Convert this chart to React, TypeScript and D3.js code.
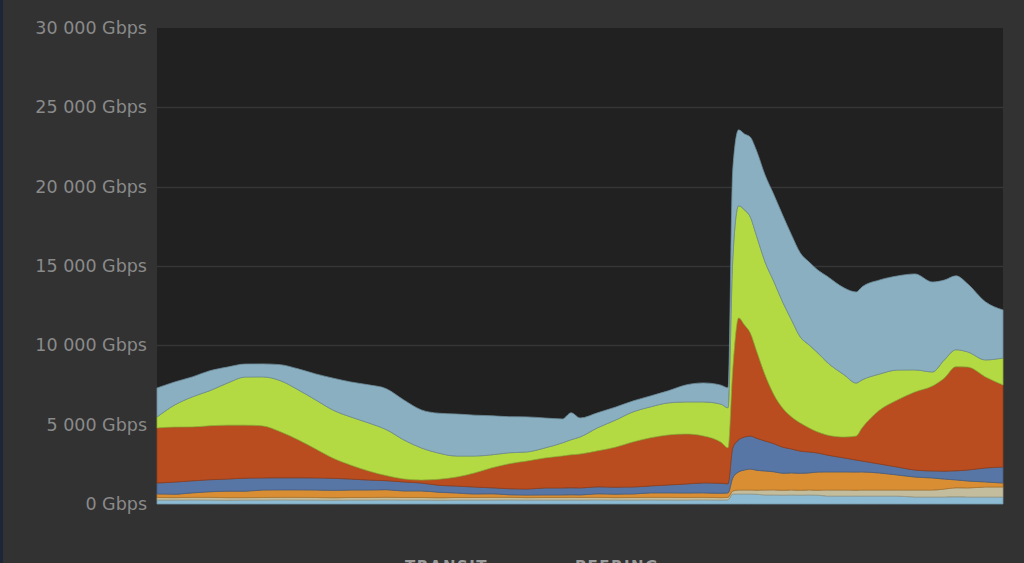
import * as React from 'react'
import * as d3 from 'd3'

// minutes since start of the window
const minutes = [0, 30, 60, 90, 120, 150, 180, 210, 240, 270, 300, 330, 360, 390, 420, 450, 480, 510, 540, 570,
    600, 630, 660, 690, 705, 720, 750, 780, 810, 840, 870, 900, 930, 960, 972, 980, 990, 1000, 1010, 1020,
    1035, 1050, 1065, 1080, 1095, 1110, 1125, 1140, 1170, 1190, 1200, 1230, 1260, 1290, 1320, 1340, 1360, 1380, 1410, 1440]

// Gbps per series, bottom of the stack first
const seriesA = [250, 250, 260, 250, 240, 250, 250, 260, 250, 250, 240, 250, 250, 260, 250, 250, 240, 250, 250, 250,
    260, 250, 250, 250, 250, 250, 260, 250, 250, 260, 250, 250, 260, 250, 260, 630, 630, 630, 630, 620,
    570, 570, 560, 570, 560, 570, 560, 500, 500, 500, 500, 500, 500, 440, 440, 440, 450, 440, 440, 440]
const seriesB = [160, 150, 160, 170, 160, 150, 160, 160, 170, 160, 150, 160, 160, 170, 160, 160, 150, 160, 160, 170,
    160, 150, 160, 160, 170, 160, 160, 150, 160, 160, 170, 160, 160, 150, 160, 190, 250, 250, 250, 250,
    310, 320, 310, 320, 310, 320, 310, 380, 380, 370, 380, 380, 380, 440, 440, 500, 570, 570, 630, 630]
const seriesC = [220, 220, 280, 350, 410, 410, 470, 470, 470, 470, 470, 470, 470, 470, 410, 410, 350, 280, 220, 220,
    160, 160, 160, 160, 160, 160, 220, 220, 220, 280, 280, 280, 280, 280, 280, 820, 1140, 1260, 1320, 1260,
    1200, 1140, 1070, 1070, 1070, 1070, 1140, 1140, 1140, 1140, 1140, 1070, 950, 820, 760, 630, 500, 440, 320, 250]
const seriesD = [690, 760, 760, 760, 760, 820, 760, 760, 760, 760, 760, 690, 630, 570, 570, 500, 440, 440, 440, 380,
    380, 380, 440, 440, 440, 440, 440, 440, 440, 440, 500, 570, 630, 630, 570, 1890, 2020, 2080, 2080, 2020,
    1890, 1770, 1640, 1510, 1390, 1320, 1200, 1070, 880, 760, 690, 570, 500, 440, 440, 500, 570, 690, 880, 1010]
const seriesE = [3470, 3470, 3400, 3400, 3400, 3340, 3280, 2900, 2400, 1830, 1260, 880, 570, 320, 190, 190, 380, 570, 880, 1260,
    1580, 1770, 1890, 2020, 2080, 2140, 2270, 2520, 2840, 3030, 3150, 3150, 2960, 2580, 2270, 4920, 7690, 7060, 6490, 5550,
    4160, 3090, 2460, 2020, 1770, 1510, 1320, 1260, 1320, 1510, 2080, 3400, 4220, 4920, 5360, 5860, 6560, 6490, 5740, 5170]
const seriesF = [690, 1390, 1890, 2210, 2650, 3030, 3090, 3220, 3150, 3090, 3030, 3030, 3030, 2900, 2460, 2020, 1640, 1320, 1070, 820,
    690, 570, 630, 820, 950, 1070, 1450, 1700, 1890, 1950, 2020, 2020, 2140, 2400, 2520, 6930, 7060, 7250, 7310, 7250,
    7120, 7120, 6680, 6110, 5420, 5230, 4980, 4600, 3910, 3340, 3030, 2270, 1890, 1390, 880, 1140, 1070, 950, 1070, 1700]
const seriesG = [1830, 1450, 1260, 1260, 1010, 820, 820, 1010, 1320, 1640, 2020, 2210, 2400, 2580, 2520, 2400, 2520, 2650, 2580, 2460,
    2270, 2210, 1890, 1510, 1700, 1200, 950, 820, 690, 690, 760, 1070, 1200, 1200, 1260, 5670, 4790, 4790, 5040, 5360,
    5480, 5480, 5480, 5360, 5300, 5230, 5230, 5420, 5480, 5740, 5860, 5930, 5930, 6050, 5670, 5040, 4660, 4290, 3660, 3030]

const keys = ['a', 'b', 'c', 'd', 'e', 'f', 'g']
const colors = ['#8dbbd3', '#c3bd9e', '#d98e33', '#5776a5', '#b94d1f', '#b3d943', '#8aafc0']
const yTicks = [0, 5000, 10000, 15000, 20000, 25000, 30000]
const legendLabels = ['TRANSIT', 'PEERING']

const W = 1024
const H = 563
const margin = { top: 28, right: 21, bottom: 59, left: 157 }

const fmt = (v: number) => d3.format(',')(v).replace(/,/g, ' ') + ' Gbps'

export default function App () {
    const rows = minutes.map((m, i) => ({
        m,
        a: seriesA[i], b: seriesB[i], c: seriesC[i], d: seriesD[i],
        e: seriesE[i], f: seriesF[i], g: seriesG[i]
    }))

    const x = d3.scaleLinear().domain([0, 1440]).range([margin.left, W - margin.right])
    const y = d3.scaleLinear().domain([0, 30000]).range([H - margin.bottom, margin.top])

    const stacked = d3.stack<any>().keys(keys)(rows)
    const area = d3.area<any>()
        .x(d => x(d.data.m))
        .y0(d => y(d[0]))
        .y1(d => y(d[1]))
        .curve(d3.curveMonotoneX)

    return <div style={{ position: 'fixed', left: 0, top: 0, width: W, height: H }}>
        <svg width={W} height={H} style={{ display: 'block' }}>
            <rect x={0} y={0} width={W} height={H} fill='#323232' />
            <rect x={0} y={0} width={3} height={H} fill='#1b2636' />
            <rect x={margin.left} y={margin.top}
                width={W - margin.left - margin.right}
                height={H - margin.top - margin.bottom}
                fill='#212121' />
            {yTicks.filter(t => t > 0 && t < 30000).map(t =>
                <line key={t} x1={margin.left} x2={W - margin.right}
                    y1={Math.round(y(t)) + 0.5} y2={Math.round(y(t)) + 0.5}
                    stroke='#363636' strokeWidth={1.5} />)}
            {stacked.map((s, i) =>
                <path key={s.key} d={area(s) || ''} fill={colors[i]}
                    stroke={d3.color(colors[i])!.darker(0.6).toString()} strokeWidth={0.8} />)}
            {yTicks.map(t =>
                <text key={t} x={147} y={y(t)} dy='0.35em' textAnchor='end'
                    fontFamily='DejaVu Sans, sans-serif' fontSize={17.5} fill='#8a8a8a'>
                    {fmt(t)}
                </text>)}
            {legendLabels.map((l, i) =>
                <text key={l} x={405 + i * 170} y={572}
                    fontFamily='DejaVu Sans, sans-serif' fontSize={15} fontWeight='bold'
                    letterSpacing={1.5} fill='#9a9a9a'>
                    {l}
                </text>)}
        </svg>
    </div>
}
